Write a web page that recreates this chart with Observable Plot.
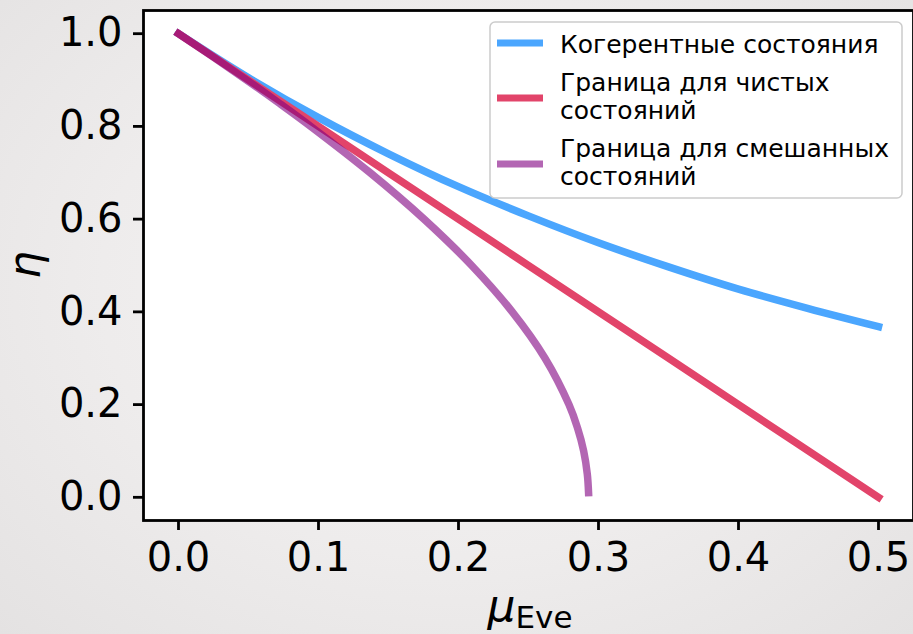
<!DOCTYPE html>
<html>
<head>
<meta charset="utf-8">
<script src="https://cdn.jsdelivr.net/npm/d3@7"></script>
<script src="https://cdn.jsdelivr.net/npm/@observablehq/plot@0.6"></script>
<style>
  html, body { margin: 0; padding: 0; }
  body {
    width: 913px; height: 634px; overflow: hidden;
    background: radial-gradient(ellipse at 50% 45%, #f6f5f5 0%, #eeecec 55%, #e4e2e2 100%);
    font-family: "DejaVu Sans", sans-serif;
  }
  svg { display: block; }
</style>
</head>
<body>
<div id="chart"></div>
<script>
// Coherent states (blue)
const muCoherent  = [0, 0.05, 0.10, 0.15, 0.20, 0.25, 0.30, 0.35, 0.40, 0.45, 0.50];
const etaCoherent = [1.0, 0.905, 0.819, 0.741, 0.670, 0.607, 0.549, 0.497, 0.449, 0.407, 0.368];
// Bound for pure states (red)
const muPure  = [0, 0.1, 0.2, 0.3, 0.4, 0.5];
const etaPure = [1.0, 0.8, 0.6, 0.4, 0.2, 0.0];
// Bound for mixed states (purple)
const muMixed  = [0, 0.0247, 0.0487, 0.0720, 0.0945, 0.1369, 0.1754, 0.2094, 0.2384, 0.2618, 0.2789, 0.2850, 0.2894, 0.2920, 0.2929];
const etaMixed = [1.0, 0.95, 0.90, 0.85, 0.80, 0.70, 0.60, 0.50, 0.40, 0.30, 0.20, 0.15, 0.10, 0.05, 0.01];

const xTicks = [0, 0.1, 0.2, 0.3, 0.4, 0.5];
const yTicks = [0, 0.2, 0.4, 0.6, 0.8, 1.0];
const seriesNames = ["Когерентные состояния", "Граница для чистых состояний", "Граница для смешанных состояний"];
const seriesColors = ["#4ba6fe", "#e2446a", "#800080"];
const seriesOpacity = [1, 1, 0.6];

const toRows = (mu, eta) => mu.map((m, i) => ({mu: m, eta: eta[i]}));
const coherent = toRows(muCoherent, etaCoherent);
const pure = toRows(muPure, etaPure);
const mixed = toRows(muMixed, etaMixed);

const lineOpts = (i) => ({x: "mu", y: "eta", stroke: seriesColors[i], strokeOpacity: seriesOpacity[i],
  strokeWidth: 7.5, curve: "catmull-rom", strokeLinecap: "square"});

const chart = Plot.plot({
  width: 913, height: 634,
  marginLeft: 143, marginRight: 0, marginTop: 10, marginBottom: 114,
  x: {domain: [-0.025, 0.525]},
  y: {domain: [-0.05, 1.05]},
  style: {background: "transparent", fontFamily: "DejaVu Sans", color: "black", overflow: "visible"},
  marks: [
    Plot.frame({fill: "white", stroke: "none"}),
    Plot.line(coherent, lineOpts(0)),
    Plot.line(pure, lineOpts(1)),
    Plot.line(mixed, lineOpts(2)),
    Plot.frame({stroke: "black", strokeWidth: 2.8}),
    Plot.axisX({ticks: xTicks, tickFormat: d => d.toFixed(1), tickSize: 10, tickPadding: 12,
      strokeWidth: 2.8, fontSize: 40, label: null}),
    Plot.axisY({ticks: yTicks, tickFormat: d => d.toFixed(1), tickSize: 10, tickPadding: 11,
      strokeWidth: 2.8, fontSize: 40, label: null})
  ]
});

document.getElementById("chart").appendChild(chart);

const svg = d3.select(chart);

// Axis labels (mathtext style)
svg.append("text")
  .attr("transform", "translate(40,265) rotate(-90)")
  .attr("text-anchor", "middle")
  .attr("font-family", "DejaVu Sans").attr("font-style", "italic").attr("font-size", 44)
  .attr("fill", "black")
  .text("η");

const xl = svg.append("text")
  .attr("x", 530).attr("y", 621)
  .attr("text-anchor", "middle")
  .attr("font-family", "DejaVu Sans").attr("fill", "black");
xl.append("tspan").attr("font-style", "italic").attr("font-size", 44).text("μ");
xl.append("tspan").attr("font-size", 31).attr("dy", 7).text("Eve");

// Legend
const lg = svg.append("g").attr("font-family", "DejaVu Sans").attr("font-size", 25)
  .attr("text-anchor", "start");
lg.append("rect").attr("x", 490).attr("y", 22).attr("width", 412).attr("height", 176)
  .attr("rx", 5).attr("fill", "white").attr("fill-opacity", 0.8)
  .attr("stroke", "#cccccc").attr("stroke-width", 1.5);
const handleY = [43, 98, 164];
const textLines = [["Когерентные состояния"], ["Граница для чистых", "состояний"], ["Граница для смешанных", "состояний"]];
const baseY = [53, 91, 157];
seriesNames.forEach((name, i) => {
  lg.append("line").attr("x1", 497).attr("x2", 543).attr("y1", handleY[i]).attr("y2", handleY[i])
    .attr("stroke", seriesColors[i]).attr("stroke-opacity", seriesOpacity[i]).attr("stroke-width", 7);
  const t = lg.append("text").attr("x", 560).attr("y", baseY[i]).attr("fill", "black")
    .attr("text-anchor", "start");
  textLines[i].forEach((ln, j) => {
    t.append("tspan").attr("x", 560).attr("dy", j === 0 ? 0 : 28).text(ln);
  });
});
</script>
</body>
</html>
